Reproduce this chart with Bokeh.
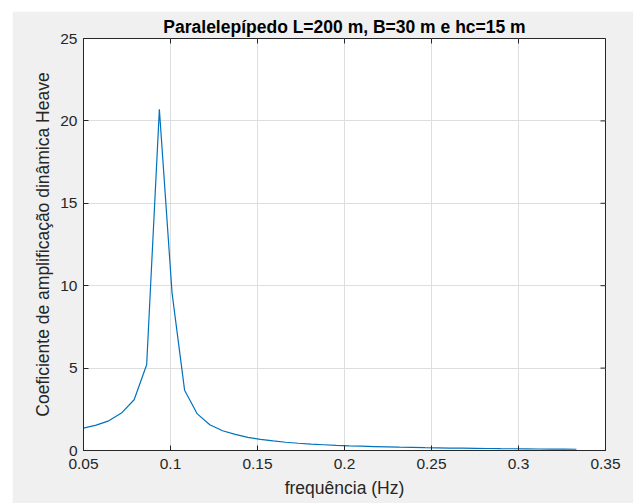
import math
from bokeh.plotting import figure
from bokeh.models import Range1d, FixedTicker, Spacer
from bokeh.layouts import column, row
from bokeh.embed import file_html
from bokeh.resources import INLINE

freq = [0.0500, 0.0573, 0.0645, 0.0718, 0.0791, 0.0863, 0.0936, 0.1009, 0.1081, 0.1154,
        0.1226, 0.1299, 0.1372, 0.1444, 0.1517, 0.1590, 0.1662, 0.1735, 0.1808, 0.1880,
        0.1953, 0.2026, 0.2098, 0.2171, 0.2244, 0.2316, 0.2389, 0.2462, 0.2534, 0.2607,
        0.2679, 0.2752, 0.2825, 0.2897, 0.2970, 0.3043, 0.3115, 0.3188, 0.3261, 0.3333]
amp = [1.36, 1.54, 1.80, 2.27, 3.08, 5.20, 20.70, 9.55, 3.66, 2.22,
       1.56, 1.20, 0.98, 0.80, 0.68, 0.58, 0.50, 0.44, 0.39, 0.35,
       0.31, 0.28, 0.26, 0.24, 0.22, 0.20, 0.185, 0.17, 0.16, 0.15,
       0.14, 0.13, 0.12, 0.11, 0.105, 0.10, 0.09, 0.085, 0.08, 0.075]
x_ticks = [0.05, 0.1, 0.15, 0.2, 0.25, 0.3, 0.35]
x_tick_labels = ["0.05", "0.1", "0.15", "0.2", "0.25", "0.3", "0.35"]
y_ticks = [0, 5, 10, 15, 20, 25]
y_tick_labels = ["0", "5", "10", "15", "20", "25"]

title_text = "Paralelepípedo L=200 m, B=30 m e hc=15 m"
x_label = "frequência (Hz)"
y_label = "Coeficiente de amplificação dinâmica Heave"

FONT = "Liberation Sans"
DARK = "#262626"

p = figure(width=621, height=492, output_backend="svg", toolbar_location=None,
           x_range=Range1d(0.05, 0.35), y_range=Range1d(0, 25),
           min_border_left=71, min_border_right=28, min_border_top=27, min_border_bottom=53,
           background_fill_color="white", border_fill_color="#f0f0f0",
           title=title_text)
p.outline_line_color = DARK
p.outline_line_width = 1

p.title.align = "center"
p.title.text_font = FONT
p.title.text_font_size = "17.5px"
p.title.text_font_style = "bold"
p.title.text_color = "black"
p.title.standoff = 4

p.line(freq, amp, line_color="#0072BD", line_width=1.2)

for ax in (p.xaxis[0], p.yaxis[0]):
    ax.major_label_text_font = FONT
    ax.major_label_text_font_size = "15.5px"
    ax.major_label_text_color = DARK
    ax.axis_label_text_font = FONT
    ax.axis_label_text_font_size = "17.5px"
    ax.axis_label_text_font_style = "normal"
    ax.axis_label_text_color = DARK
    ax.axis_line_color = DARK
    ax.major_tick_line_color = DARK
    ax.major_tick_in = 5
    ax.major_tick_out = 0
    ax.minor_tick_line_color = None

p.xaxis[0].ticker = FixedTicker(ticks=x_ticks)
p.xaxis[0].major_label_overrides = {t: s for t, s in zip(x_ticks, x_tick_labels)}
p.yaxis[0].ticker = FixedTicker(ticks=y_ticks)
p.yaxis[0].major_label_overrides = {t: s for t, s in zip(y_ticks, y_tick_labels)}
p.xaxis[0].axis_label = x_label
p.yaxis[0].axis_label = y_label
p.xaxis[0].major_label_standoff = 8
p.yaxis[0].major_label_standoff = 6
p.xaxis[0].axis_label_standoff = 6
p.yaxis[0].axis_label_standoff = 4

p.xgrid.ticker = FixedTicker(ticks=x_ticks)
p.ygrid.ticker = FixedTicker(ticks=y_ticks)
p.grid.grid_line_color = "#dedede"
p.grid.grid_line_width = 1

# mirrored tick marks on the top and right edges (box on)
p.scatter(x_ticks, [25] * len(x_ticks), marker="dash", angle=math.pi / 2, size=10,
          line_color=DARK, line_width=1)
p.scatter([0.35] * len(y_ticks), y_ticks, marker="dash", size=10,
          line_color=DARK, line_width=1)

layout = column(Spacer(height=11), row(Spacer(width=12), p))
open("out.html", "w").write(file_html(layout, INLINE))
